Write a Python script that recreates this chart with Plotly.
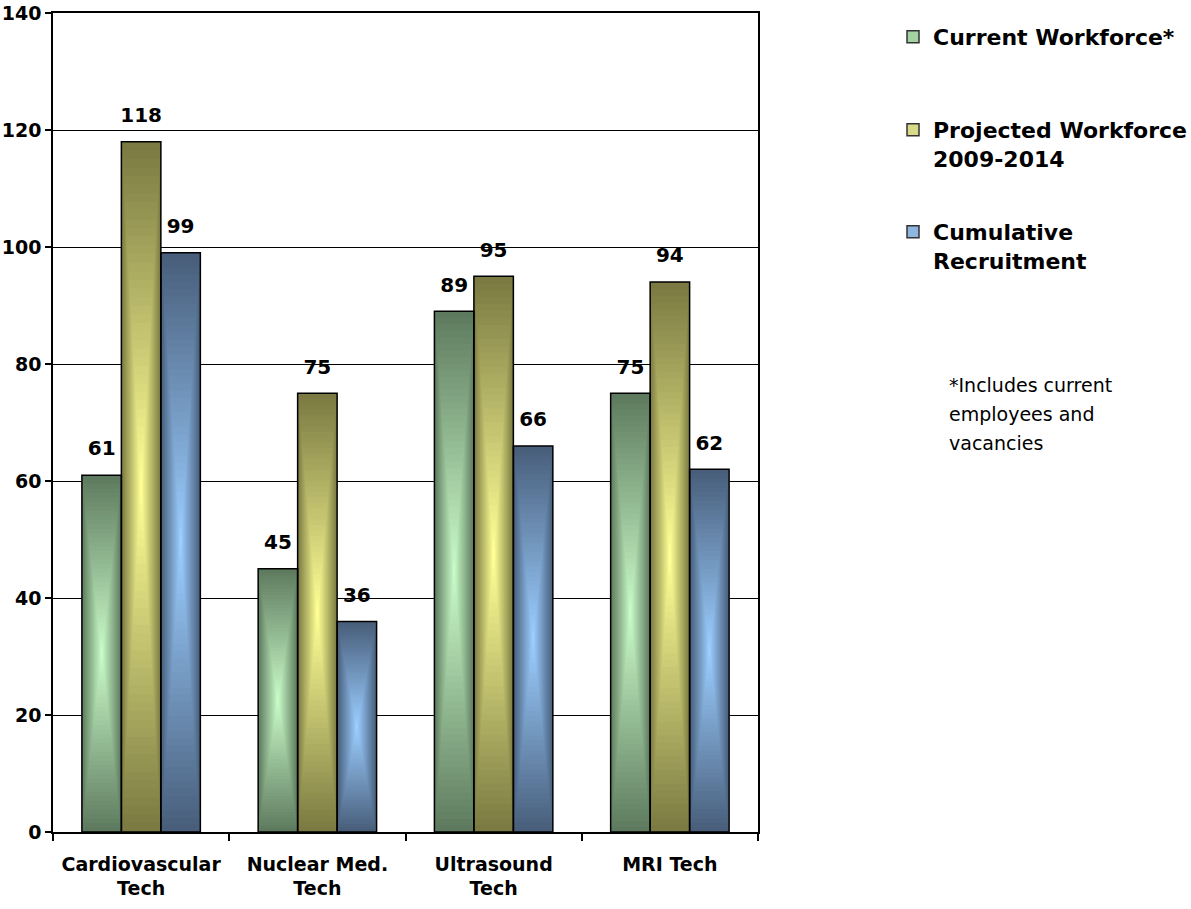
import plotly.graph_objects as go

categories = ["Cardiovascular<br>Tech", "Nuclear Med.<br>Tech", "Ultrasound<br>Tech", "MRI Tech"]
series_names = ["Current Workforce*", "Projected Workforce<br>2009-2014", "Cumulative<br>Recruitment"]
current_workforce = [61, 45, 89, 75]
projected_workforce = [118, 75, 95, 94]
cumulative_recruitment = [99, 36, 66, 62]
y_ticks = [0, 20, 40, 60, 80, 100, 120, 140]

series_values = [current_workforce, projected_workforce, cumulative_recruitment]
edge_colors = [(94, 122, 94), (122, 122, 66), (72, 94, 122)]
center_colors = [(200, 250, 200), (255, 255, 150), (155, 205, 255)]
legend_colors = ["#a3d3a3", "#d9d98a", "#8fb6e0"]

BAR_W = 0.224
CENTERS = [-BAR_W, 0.0, BAR_W]
N_LAYERS = 40
BOLD = dict(family="DejaVu Sans", weight="bold", color="black")


def lerp(a, b, t):
    return "rgb(%d,%d,%d)" % tuple(round(a[j] + (b[j] - a[j]) * t) for j in range(3))


fig = go.Figure()

# gradient bars: nested rectangles from edge colour to centre colour
for i, vals in enumerate(series_values):
    for k in range(N_LAYERS):
        frac = 1 - k / N_LAYERS
        t = k / (N_LAYERS - 1)
        w = BAR_W * frac
        fig.add_trace(go.Bar(
            x=categories,
            y=[v * frac for v in vals],
            base=[v * (1 - frac) / 2 for v in vals],
            width=w,
            offset=CENTERS[i] - w / 2,
            marker=dict(color=lerp(edge_colors[i], center_colors[i], t), line=dict(width=0)),
            showlegend=False,
            hoverinfo="skip",
        ))

# black outlines on top
for i, vals in enumerate(series_values):
    fig.add_trace(go.Bar(
        x=categories,
        y=vals,
        width=BAR_W,
        offset=CENTERS[i] - BAR_W / 2,
        marker=dict(color="rgba(0,0,0,0)", line=dict(color="black", width=1.5)),
        showlegend=False,
        hoverinfo="skip",
    ))

# legend entries
legend_ids = ["legend", "legend2", "legend3"]
for i, name in enumerate(series_names):
    fig.add_trace(go.Bar(
        x=categories,
        y=[None] * len(categories),
        name=name,
        marker=dict(color=legend_colors[i], line=dict(color="#333333", width=1.5)),
        legend=legend_ids[i],
        hoverinfo="skip",
    ))

# data labels
for i, vals in enumerate(series_values):
    fig.add_trace(go.Scatter(
        x=categories,
        y=vals,
        mode="markers+text",
        text=[str(v) for v in vals],
        textposition="top center",
        textfont=dict(size=20, **BOLD),
        marker=dict(size=22, color="rgba(0,0,0,0)"),
        alignmentgroup="labels",
        offsetgroup="s%d" % i,
        showlegend=False,
        hoverinfo="skip",
        cliponaxis=False,
    ))

W, H = 1191, 909


def legend_cfg(top_px):
    return dict(
        xref="container", yref="container",
        x=893 / W, y=1 - top_px / H,
        xanchor="left", yanchor="top",
        font=dict(size=22, **BOLD),
        bgcolor="rgba(0,0,0,0)",
        valign="top",
    )


fig.update_layout(
    width=W, height=H,
    margin=dict(l=53, r=433, t=13, b=77),
    paper_bgcolor="white",
    plot_bgcolor="white",
    barmode="overlay",
    scattermode="group",
    scattergap=1 - 3 * BAR_W,
    showlegend=True,
    legend=legend_cfg(16),
    legend2=legend_cfg(109),
    legend3=legend_cfg(211),
    xaxis=dict(
        range=[-0.5, 3.5],
        automargin=False,
        showline=True, linecolor="black", linewidth=1.5, mirror=True,
        ticks="outside", tickson="boundaries", ticklen=7, tickcolor="black", tickwidth=1.5,
        tickfont=dict(size=19, **BOLD),
        ticklabelstandoff=14,
        showgrid=False,
    ),
    yaxis=dict(
        range=[0, 140],
        automargin=False,
        tickvals=y_ticks,
        showline=True, linecolor="black", linewidth=1.5, mirror=True,
        ticks="outside", ticklen=6, tickcolor="black", tickwidth=1.5,
        tickfont=dict(size=19, **BOLD),
        showgrid=True, gridcolor="black", gridwidth=1.3,
        zeroline=False,
    ),
    font=dict(family="DejaVu Sans", color="black"),
)

note_lines = ["*Includes current", "employees and", "vacancies"]
for j, line in enumerate(note_lines):
    fig.add_annotation(
        xref="paper", yref="paper",
        x=(947 - 53) / (W - 53 - 433), y=1 - (385 + 29 * j - 13) / (H - 13 - 77),
        xanchor="left", yanchor="middle",
        text=line, showarrow=False,
        font=dict(family="DejaVu Sans", size=19, color="black"),
    )

fig.write_html("out.html")
